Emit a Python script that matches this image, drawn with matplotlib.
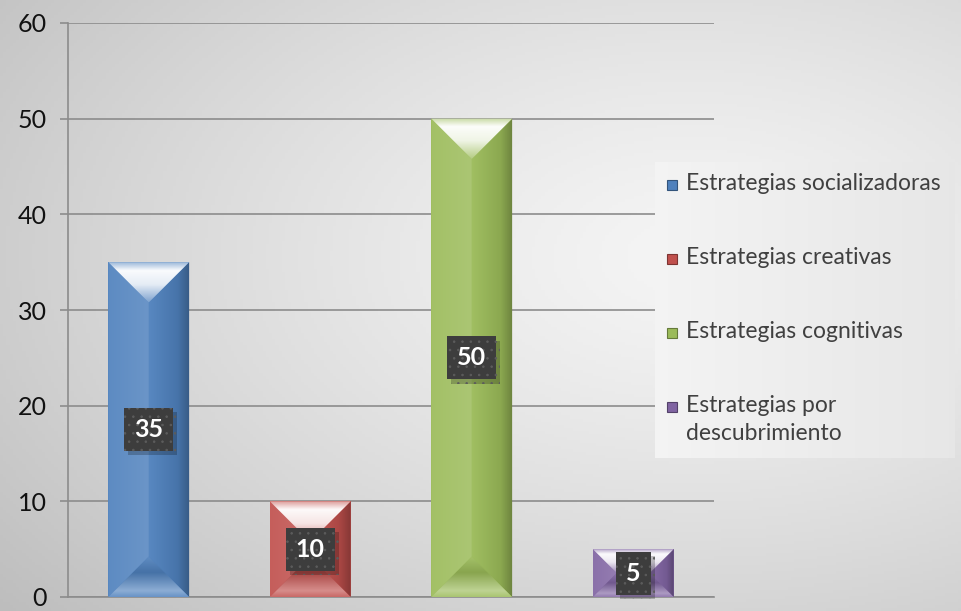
import numpy as np
import matplotlib
matplotlib.use('Agg')
import matplotlib.pyplot as plt
import matplotlib.patheffects as pe
from matplotlib.patches import Polygon, Rectangle
from matplotlib.colors import to_rgb

plt.rcParams['font.family'] = ['Lato', 'DejaVu Sans']
plt.rcParams['hatch.linewidth'] = 0.6

# Datos
categorias = ['Estrategias socializadoras', 'Estrategias creativas',
              'Estrategias cognitivas', 'Estrategias por\ndescubrimiento']
valores = [35, 10, 50, 5]
colores = ['#4f81bd', '#c0504d', '#9bbb59', '#8064a2']
y_ticks = [0, 10, 20, 30, 40, 50, 60]

W, H = 961, 611
fig = plt.figure(figsize=(W / 100, H / 100), dpi=100)


def mezcla(c, otro, t):
    a = np.array(to_rgb(c))
    b = np.array(to_rgb(otro))
    return tuple(a * (1 - t) + b * t)


# Fondo con degradado radial
bg = fig.add_axes([0, 0, 1, 1], zorder=-10)
X, Y = np.meshgrid(np.linspace(0, 1, 300), np.linspace(0, 1, 200))
r = np.sqrt(((X - 0.72) / 0.95) ** 2 + ((Y - 0.42) / 0.9) ** 2)
v = np.clip(0.96 - 0.22 * r ** 1.3, 0, 1)
bg.imshow(np.dstack([v, v, v]), extent=[0, 1, 0, 1], aspect='auto', origin='upper')
bg.axis('off')

left, right, top, bottom = 68, 714, 23, 597
ax = fig.add_axes([left / W, 1 - bottom / H, (right - left) / W, (bottom - top) / H])
ax.set_facecolor('none')

x = np.arange(len(valores))
ancho = 0.5
ax.bar(x, valores, width=ancho, color=colores, zorder=2)


def relleno(ax, verts, stops, vertical):
    poly = Polygon(verts, closed=True, fc='none', ec='none')
    ax.add_patch(poly)
    vs = np.array(verts)
    xmin, xmax = vs[:, 0].min(), vs[:, 0].max()
    ymin, ymax = vs[:, 1].min(), vs[:, 1].max()
    pos = np.linspace(0, 1, 64)
    pts = [p for p, _ in stops]
    cols = np.array([to_rgb(c) for _, c in stops])
    arr = np.stack([np.interp(pos, pts, cols[:, k]) for k in range(3)], axis=-1)
    if vertical:
        img = arr[:, None, :].repeat(2, axis=1)
    else:
        img = arr[None, :, :].repeat(2, axis=0)
    im = ax.imshow(img, extent=[xmin, xmax, ymin, ymax], aspect='auto',
                   origin='upper', interpolation='bilinear', zorder=3)
    im.set_clip_path(poly)


# Efecto biselado de las barras
sx = (right - left) / len(valores)
sy = (bottom - top) / 60
for i, (val, c) in enumerate(zip(valores, colores)):
    x0, x1 = i - ancho / 2, i + ancho / 2
    d = min(ancho / 2 * sx, val * sy / 2)
    dx, dy = d / sx, d / sy
    izq = [(x0, 0), (x0, val), (x0 + dx, val - dy), (x0 + dx, dy)]
    der = [(x1, 0), (x1, val), (x1 - dx, val - dy), (x1 - dx, dy)]
    sup = [(x0, val), (x1, val), (x1 - dx, val - dy), (x0 + dx, val - dy)]
    inf = [(x0, 0), (x1, 0), (x1 - dx, dy), (x0 + dx, dy)]
    relleno(ax, izq, [(0, mezcla(c, 'white', 0.08)), (1, mezcla(c, 'white', 0.16))], False)
    relleno(ax, der, [(0, mezcla(c, 'white', 0.05)), (0.7, mezcla(c, 'black', 0.1)),
                      (1, mezcla(c, 'black', 0.3))], False)
    relleno(ax, sup, [(0, mezcla(c, 'white', 0.45)), (0.2, mezcla(c, 'white', 0.97)),
                      (0.55, mezcla(c, 'white', 0.85)), (1, mezcla(c, 'white', 0.25))], True)
    relleno(ax, inf, [(0, mezcla(c, 'white', 0.1)), (0.4, mezcla(c, 'black', 0.12)),
                      (0.85, mezcla(c, 'white', 0.35)), (1, mezcla(c, 'white', 0.15))], True)
    t = ax.text(i, val / 2, str(val), ha='center', va='center', fontsize=18,
                fontweight='bold', color='white', zorder=6,
                bbox=dict(boxstyle='square,pad=0.4', fc='#3d3d3d', ec='#5c5c5c',
                          lw=0, hatch='..'))
    t.get_bbox_patch().set_path_effects([
        pe.SimplePatchShadow(offset=(3, -3), shadow_rgbFace='black', alpha=0.22),
        pe.Normal()])

ax.set_xlim(-0.5, len(valores) - 0.5)
ax.set_ylim(0, 60)
ax.set_yticks(y_ticks)
ax.set_xticks([])
ax.yaxis.grid(True, color='#8c8c8c', lw=1.2)
ax.set_axisbelow(True)
for s in ['top', 'right']:
    ax.spines[s].set_visible(False)
for s in ['left', 'bottom']:
    ax.spines[s].set_color('#8c8c8c')
    ax.spines[s].set_linewidth(1.2)
ax.tick_params(axis='y', direction='out', length=6, width=1.2, color='#8c8c8c',
               labelsize=18, pad=9, labelcolor='#111111')

# Leyenda
lx0, ly0, lx1, ly1 = 655, 162, 955, 458
lax = fig.add_axes([lx0 / W, 1 - ly1 / H, (lx1 - lx0) / W, (ly1 - ly0) / H])
gx = np.linspace(0, 1, 200)
gv = 0.955 - 0.05 * gx
lax.imshow(np.dstack([np.tile(gv, (2, 1))] * 3), extent=[0, 1, 0, 1], aspect='auto')
lax.set_xlim(0, 1)
lax.set_ylim(0, 1)
lax.axis('off')
for k, (cat, c) in enumerate(zip(categorias, colores)):
    yk = 0.922 - 0.25 * k
    lax.add_patch(Rectangle((0.040, yk - 0.017), 0.034, 0.034, fc=c,
                            ec=mezcla(c, 'black', 0.35), lw=0.8))
    lax.text(0.103, yk + 0.042, cat, ha='left', va='top', fontsize=16.5,
             color='#404040', linespacing=1.45)

fig.savefig('out.png', dpi=100)
